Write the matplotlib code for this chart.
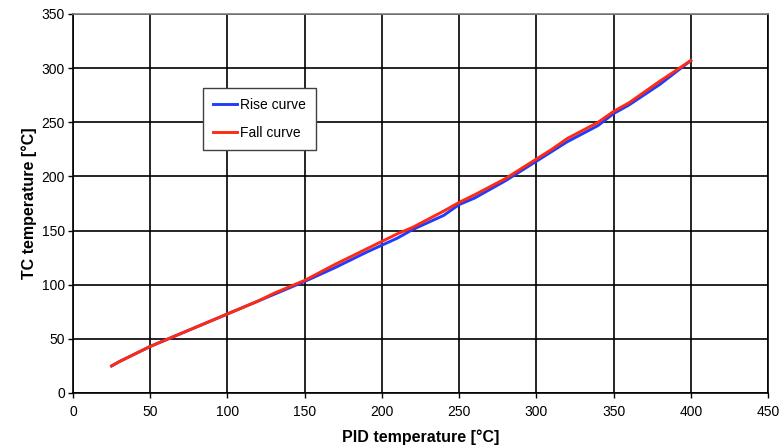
import matplotlib
matplotlib.use("Agg")
import matplotlib.pyplot as plt

plt.rcParams['font.family'] = ['Liberation Sans', 'DejaVu Sans']

rise_x = [25, 30, 40, 50, 60, 80, 100, 120, 130, 150, 170, 190, 200, 210, 220, 240, 250, 260, 280, 300, 310, 320, 340, 350, 360, 380, 400]
rise_y = [25, 29, 36, 43, 49, 61, 73, 85, 91, 103, 116, 130, 136.5, 143, 151, 164, 174, 180, 196, 214, 223, 232, 247, 258, 266, 285, 307]

fall_x = [25, 30, 40, 50, 60, 80, 100, 120, 130, 150, 170, 190, 200, 210, 220, 240, 250, 260, 280, 300, 310, 320, 340, 350, 360, 380, 400]
fall_y = [25, 29, 36, 43, 49, 61, 73, 85, 92, 104, 119, 133, 140, 147, 153, 168, 176, 183, 198, 216, 225, 235, 250, 260, 268, 288, 307]

x_ticks = [0, 50, 100, 150, 200, 250, 300, 350, 400, 450]
y_ticks = [0, 50, 100, 150, 200, 250, 300, 350]

fig = plt.figure(figsize=(7.8, 4.46), dpi=100)
ax = fig.add_axes([73/780, 53/446, 695/780, 379/446])

ax.plot(rise_x, rise_y, color='#1f3cff', lw=2.1, label='Rise curve', solid_joinstyle='round')
ax.plot(fall_x, fall_y, color='#ff2a10', lw=2.1, label='Fall curve', solid_joinstyle='round')

ax.set_xlim(0, 450)
ax.set_ylim(0, 350)
ax.set_xticks(x_ticks)
ax.set_yticks(y_ticks)
ax.grid(True, color='black', lw=1.2)
ax.set_axisbelow(True)
ax.tick_params(direction='out', length=3.6, width=1, labelsize=10, colors='black')
ax.tick_params(axis='x', pad=5.4)
ax.tick_params(axis='y', pad=2.3)
for s in ['left', 'bottom', 'right']:
    ax.spines[s].set_color('black')
    ax.spines[s].set_linewidth(1.2)
ax.spines['top'].set_color('#808080')
ax.spines['top'].set_linewidth(1.2)

ax.set_xlabel('PID temperature [°C]', fontsize=11.5, fontweight='bold', labelpad=7)
ax.set_ylabel('TC temperature [°C]', fontsize=11.5, fontweight='bold', labelpad=3.5)

leg = ax.legend(loc='upper left', bbox_to_anchor=(0.187, 0.805), fontsize=10,
                frameon=True, fancybox=False, framealpha=1, edgecolor='#404040',
                handlelength=1.7, handletextpad=0.2, labelspacing=0.95,
                borderpad=0.75, borderaxespad=0)
leg.get_frame().set_linewidth(1.0)

fig.savefig('out.png', dpi=100)
